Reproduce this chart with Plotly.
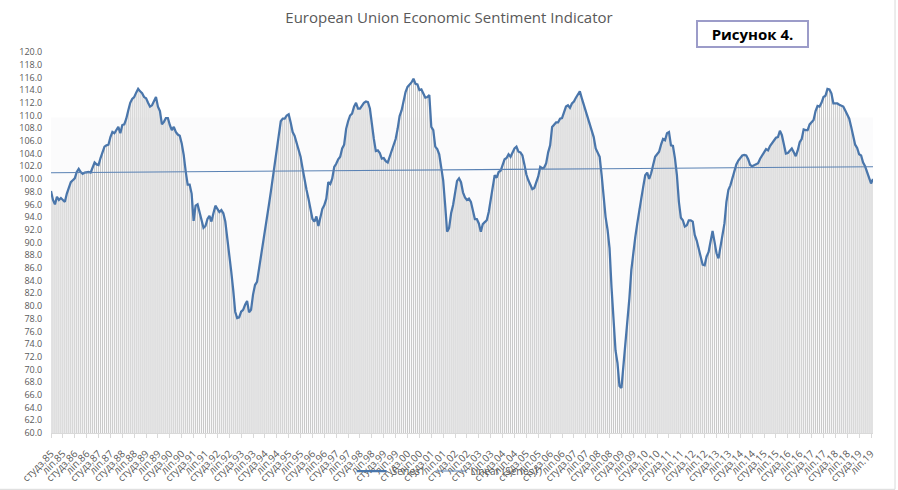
import numpy as np
import plotly.graph_objects as go

# EU Economic Sentiment Indicator, monthly, one list per year
esi_1985 = [98.1, 96.7, 96.0, 97.2, 96.7, 97.0, 96.7, 96.4, 97.7, 98.5, 99.5, 99.8]
esi_1986 = [100.1, 101.1, 101.6, 101.1, 100.8, 101.0, 101.1, 101.1, 101.0, 101.7, 102.6, 102.3]
esi_1987 = [102.2, 103.3, 104.3, 105.1, 105.3, 105.4, 106.6, 107.4, 107.2, 107.8, 108.2, 107.2]
esi_1988 = [108.5, 108.6, 109.5, 110.8, 112.0, 112.6, 112.9, 113.6, 114.2, 113.8, 113.5, 112.9]
esi_1989 = [112.7, 112.0, 111.4, 111.6, 112.2, 112.9, 111.4, 110.7, 108.6, 109.0, 109.6, 109.6]
esi_1990 = [108.5, 107.7, 108.2, 107.4, 107.0, 106.8, 105.6, 103.8, 101.2, 99.1, 99.1, 97.7]
esi_1991 = [93.4, 95.8, 96.0, 94.7, 93.5, 92.3, 92.6, 93.7, 94.2, 93.3, 94.6, 95.8]
esi_1992 = [95.3, 94.8, 95.1, 94.6, 93.3, 90.9, 88.3, 85.4, 82.5, 79.1, 78.1, 78.2]
esi_1993 = [79.1, 79.4, 80.2, 80.8, 79.0, 79.4, 81.8, 83.3, 83.8, 85.7, 87.8, 90.1]
esi_1994 = [91.7, 93.8, 95.9, 98.0, 100.3, 102.7, 104.5, 106.6, 109.1, 109.5, 109.5, 110.0]
esi_1995 = [110.2, 108.9, 107.4, 106.8, 105.6, 104.7, 103.5, 101.7, 99.8, 98.3, 96.9, 95.5]
esi_1996 = [93.7, 93.3, 94.1, 92.6, 93.8, 95.3, 95.9, 96.9, 99.5, 99.2, 100.1, 101.9]
esi_1997 = [102.4, 103.1, 103.5, 104.8, 105.4, 107.9, 109.1, 110.0, 110.3, 111.4, 112.0, 111.1]
esi_1998 = [111.1, 111.6, 112.0, 112.2, 112.1, 111.1, 108.5, 106.3, 104.4, 104.5, 104.1, 103.2]
esi_1999 = [103.3, 102.8, 102.6, 103.5, 104.2, 105.1, 106.3, 107.9, 109.9, 110.8, 112.4, 113.7]
esi_2000 = [114.5, 114.9, 115.2, 115.8, 115.0, 114.9, 114.0, 114.1, 113.5, 112.8, 112.9, 113.2]
esi_2001 = [108.2, 107.7, 105.1, 104.7, 103.9, 101.4, 99.8, 95.9, 91.7, 92.3, 94.6, 95.9]
esi_2002 = [97.7, 99.7, 100.1, 99.5, 97.9, 97.1, 96.7, 96.9, 96.4, 94.9, 93.7, 93.7]
esi_2003 = [93.0, 91.7, 92.9, 93.2, 93.5, 94.8, 96.9, 98.6, 100.6, 100.2, 101.1, 101.3]
esi_2004 = [102.3, 103.1, 103.3, 103.9, 103.5, 104.3, 104.8, 105.1, 104.3, 104.2, 103.7, 102.3]
esi_2005 = [100.7, 99.8, 99.2, 98.4, 98.6, 99.5, 100.4, 101.9, 101.7, 101.8, 102.5, 104.2]
esi_2006 = [105.3, 108.2, 108.6, 108.9, 108.9, 109.5, 109.6, 110.6, 111.4, 111.6, 111.2, 111.9]
esi_2007 = [112.2, 112.8, 113.3, 113.8, 112.7, 111.7, 110.8, 109.8, 108.9, 107.7, 106.6, 104.8]
esi_2008 = [104.0, 103.5, 100.6, 96.9, 94.0, 92.0, 89.1, 82.9, 77.6, 73.0, 71.0, 67.4]
esi_2009 = [67.1, 70.4, 74.1, 77.7, 81.2, 85.7, 88.8, 90.9, 93.0, 95.4, 96.9, 98.8]
esi_2010 = [100.6, 101.0, 100.0, 100.9, 102.4, 103.5, 103.9, 104.3, 105.4, 106.3, 106.1, 107.2]
esi_2011 = [107.4, 105.3, 105.2, 103.3, 100.6, 96.4, 93.9, 93.5, 92.5, 92.7, 93.5, 93.5]
esi_2012 = [93.3, 91.2, 90.3, 89.1, 87.5, 86.5, 86.4, 87.8, 88.5, 90.4, 91.8, 90.1]
esi_2013 = [88.3, 87.5, 89.2, 90.7, 93.0, 96.4, 98.3, 99.0, 100.1, 101.4, 102.3, 102.9]
esi_2014 = [103.3, 103.7, 103.8, 103.7, 103.1, 102.2, 102.0, 102.2, 102.3, 102.5, 103.2, 103.8]
esi_2015 = [104.2, 104.7, 104.5, 105.2, 105.7, 106.2, 106.5, 106.6, 107.6, 106.9, 105.2, 104.0]
esi_2016 = [104.1, 104.4, 104.8, 104.2, 103.6, 104.5, 105.8, 106.3, 107.8, 107.7, 107.7, 108.6]
esi_2017 = [108.9, 109.3, 110.7, 111.5, 111.4, 112.0, 112.9, 113.1, 114.2, 114.1, 113.5, 111.9]
esi_2018 = [111.9, 111.9, 111.7, 111.6, 111.4, 110.8, 110.2, 109.5, 108.2, 106.8, 105.4, 104.9]
esi_2019 = [103.9, 103.7, 102.6, 102.0, 101.2, 100.2, 99.3, 100.0]

years = list(range(1985, 2020))
month_names = ["студз.", "ліп."]  # January / July labels
y_floor = 60

values = np.array(
    esi_1985 + esi_1986 + esi_1987 + esi_1988 + esi_1989 + esi_1990 + esi_1991
    + esi_1992 + esi_1993 + esi_1994 + esi_1995 + esi_1996 + esi_1997 + esi_1998
    + esi_1999 + esi_2000 + esi_2001 + esi_2002 + esi_2003 + esi_2004 + esi_2005
    + esi_2006 + esi_2007 + esi_2008 + esi_2009 + esi_2010 + esi_2011 + esi_2012
    + esi_2013 + esi_2014 + esi_2015 + esi_2016 + esi_2017 + esi_2018 + esi_2019
)
idx = np.arange(len(values))

tick_vals, tick_text = [], []
for k, yr in enumerate(years):
    for h, name in enumerate(month_names):
        pos = k * 12 + h * 6
        if pos < len(values):
            tick_vals.append(pos)
            tick_text.append(f"{name}{yr % 100:02d}")

# linear trend, as Excel's "Linear (Series1)"
slope, intercept = np.polyfit(idx, values, 1)
trend = slope * idx + intercept

TEXT = "#595959"
LINE = "#4a76ab"
FONT = "Open Sans, sans-serif"

fig = go.Figure()
# drop lines from each point down to the axis floor (Excel "drop lines")
fig.add_trace(go.Scatter(
    x=idx, y=values, mode="lines", line=dict(width=0, color="rgba(0,0,0,0)"),
    error_y=dict(type="data", symmetric=False, array=np.zeros(len(values)),
                 arrayminus=values - y_floor, width=0, thickness=1, color="#c9c9c9"),
    showlegend=False, hoverinfo="skip"))
fig.add_trace(go.Scatter(x=idx, y=values, mode="lines", name="Series1",
                         line=dict(color=LINE, width=2.25)))
fig.add_trace(go.Scatter(x=idx, y=trend, mode="lines", name="Linear (Series1)",
                         line=dict(color="#5a82b4", width=1.1)))

fig.update_layout(
    width=898, height=490,
    margin=dict(l=51, r=25, t=52, b=57),
    paper_bgcolor="white", plot_bgcolor="white",
    font=dict(family=FONT, color=TEXT, size=10),
    title=dict(text="European Union Economic Sentiment Indicator", x=0.5, xanchor="center",
               y=1 - 18 / 490, yanchor="middle", font=dict(size=15, color=TEXT)),
    showlegend=True,
    legend=dict(orientation="h", x=0.485, xanchor="center", xref="paper",
                y=1 - 471 / 490, yanchor="middle", yref="container",
                bgcolor="rgba(0,0,0,0)", font=dict(size=10, color=TEXT), itemwidth=30),
)
fig.update_xaxes(range=[0, len(values) - 1], tickmode="array", tickvals=tick_vals,
                 ticktext=tick_text, tickangle=-45, tickfont=dict(size=10, color=TEXT),
                 ticks="outside", ticklen=4, tickcolor="#d9d9d9", ticklabelstandoff=6,
                 showline=True, linecolor="#d9d9d9", linewidth=1,
                 showgrid=False, zeroline=False, automargin=False)
fig.update_yaxes(range=[y_floor, 120], dtick=2, tickformat=".1f", showgrid=False,
                 zeroline=False, showline=False, ticks="outside", ticklen=6,
                 tickcolor="rgba(0,0,0,0)", tickfont=dict(size=9, color=TEXT),
                 automargin=False)

# faint plot-area fill and chart border
fig.add_shape(type="rect", xref="paper", yref="y", x0=0, x1=1, y0=y_floor, y1=109.7,
              fillcolor="#fbfbfc", line_width=0, layer="below")
fig.add_shape(type="line", xref="paper", yref="paper", x0=-0.07, x1=1.0268,
              y0=-0.1478, y1=-0.1478, line=dict(color="#d9d9d9", width=1))
fig.add_shape(type="line", xref="paper", yref="paper", x0=1.0268, x1=1.0268,
              y0=-0.1478, y1=1.15, line=dict(color="#d9d9d9", width=1))

fig.add_annotation(text="<b>Рисунок 4.</b>", xref="paper", yref="paper",
                   x=0.853, y=1.048, xanchor="center", yanchor="middle", showarrow=False,
                   width=107, height=22, bordercolor="#9c9cc9", borderwidth=2,
                   font=dict(size=15, color="black", family=FONT))

fig.write_html("out.html", config={"displayModeBar": False},
               post_script="document.body.style.margin='0';document.body.style.overflow='hidden';")
